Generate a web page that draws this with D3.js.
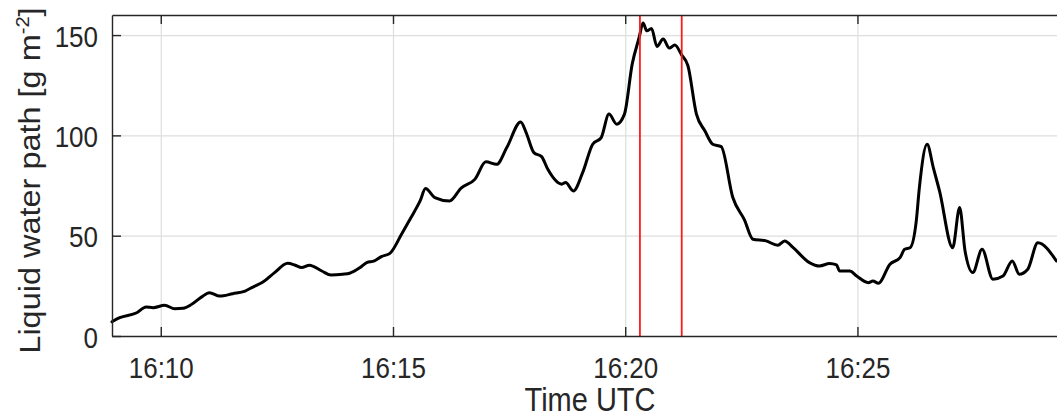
<!DOCTYPE html>
<html>
<head>
<meta charset="utf-8">
<script src="https://cdn.jsdelivr.net/npm/d3@7"></script>
<style>
  html, body { margin: 0; padding: 0; background: #fff; }
  svg { display: block; }
  text { font-family: "Liberation Sans", Arial, Helvetica, sans-serif; fill: #262626; }
</style>
</head>
<body>
<svg id="chart" width="1057" height="420"></svg>
<script>
// Liquid water path time series (UTC)
const times = [
  "16:08:57","16:09:07","16:09:29","16:09:41","16:09:50","16:10:05","16:10:18","16:10:29",
  "16:10:40","16:10:53","16:11:03","16:11:16","16:11:33","16:11:49","16:11:59","16:12:12",
  "16:12:27","16:12:44","16:12:53","16:13:02","16:13:12","16:13:28","16:13:40","16:13:55",
  "16:14:04","16:14:17","16:14:26","16:14:36","16:14:45","16:14:56","16:15:11","16:15:22",
  "16:15:35","16:15:42","16:15:54","16:16:13","16:16:28","16:16:46","16:17:00","16:17:14",
  "16:17:27","16:17:45","16:17:52","16:18:02","16:18:12","16:18:20","16:18:38","16:18:43",
  "16:18:53","16:19:05","16:19:18","16:19:29","16:19:39","16:19:49","16:19:59","16:20:09",
  "16:20:18","16:20:23","16:20:28","16:20:34","16:20:41","16:20:49","16:20:57","16:21:04",
  "16:21:13","16:21:21","16:21:32","16:21:43","16:21:53","16:22:04","16:22:19","16:22:34",
  "16:22:45","16:23:02","16:23:17","16:23:26","16:23:37","16:23:58","16:24:11","16:24:24",
  "16:24:33","16:24:37","16:24:50","16:24:59","16:25:14","16:25:20","16:25:27","16:25:42",
  "16:25:55","16:26:01","16:26:08","16:26:16","16:26:20","16:26:30","16:26:38","16:26:46",
  "16:27:03","16:27:12","16:27:19","16:27:29","16:27:41","16:27:55","16:28:08","16:28:20",
  "16:28:29","16:28:40","16:28:53","16:29:17"
];
const lwp = [
  7.1, 9.1, 11.6, 14.5, 14.1, 15.3, 13.6, 13.8,
  15.8, 19.5, 21.6, 19.9, 21.1, 22.4, 24.4, 26.9,
  31.6, 36.2, 35.4, 34.1, 35.3, 32.4, 30.4, 30.8,
  31.3, 34.0, 36.6, 37.4, 39.6, 41.2, 50.7, 58.2,
  67.3, 73.5, 69.0, 67.3, 73.7, 78.2, 86.8, 85.6,
  93.9, 106.7, 101.4, 91.4, 89.4, 83.1, 75.7, 76.5,
  72.3, 81.4, 95.6, 98.9, 110.6, 105.6, 110.6, 135.5,
  148.8, 156.0, 152.1, 153.3, 144.3, 148.0, 143.5, 145.0,
  140.0, 134.7, 110.6, 102.2, 95.6, 94.4, 69.0, 57.9,
  48.2, 47.4, 45.2, 47.4, 44.0, 36.6, 34.9, 36.1,
  35.4, 32.4, 32.4, 29.9, 26.6, 27.4, 26.3, 35.8,
  39.1, 43.2, 44.0, 57.4, 74.0, 95.6, 83.9, 72.3,
  44.0, 64.0, 42.4, 31.6, 43.2, 28.3, 29.9, 37.4,
  30.8, 33.3, 46.5, 37.4
];
// Time window marks
const markers = ["16:20:19", "16:21:13"];
// Axis ranges and ticks
const timeRange = ["16:08:57", "16:29:32"];
const xTicks = ["16:10", "16:15", "16:20", "16:25"];
const yRange = [0, 160];
const yTicks = [0, 50, 100, 150];

const parseT = d3.timeParse("%H:%M:%S");
const parseHM = d3.timeParse("%H:%M");

const svg = d3.select("#chart");
const m = { left: 112, top: 15, right: 1068, bottom: 336 };

const x = d3.scaleTime()
  .domain(timeRange.map(parseT))
  .range([m.left, m.right]);
const y = d3.scaleLinear()
  .domain(yRange)
  .range([m.bottom, m.top]);

const plotH = m.bottom - m.top;
const plotW = m.right - m.left;

// text is drawn slightly taller than wide
const stretch = 1.12;

// grid
const grid = svg.append("g");
grid.append("g")
  .attr("transform", `translate(0,${m.bottom})`)
  .call(d3.axisBottom(x).tickValues(xTicks.map(parseHM)).tickSize(-plotH).tickFormat(""))
  .call(g => g.select(".domain").remove())
  .call(g => g.selectAll("line").attr("stroke", "#dedede").attr("stroke-width", 1.2));
grid.append("g")
  .attr("transform", `translate(${m.left},0)`)
  .call(d3.axisLeft(y).tickValues(yTicks).tickSize(-plotW).tickFormat(""))
  .call(g => g.select(".domain").remove())
  .call(g => g.selectAll("line").attr("stroke", "#dedede").attr("stroke-width", 1.2));

// data line
const line = d3.line()
  .x((d, i) => x(parseT(times[i])))
  .y(d => y(d))
  .curve(d3.curveMonotoneX);

svg.append("path")
  .datum(lwp)
  .attr("d", line)
  .attr("fill", "none")
  .attr("stroke", "#000")
  .attr("stroke-width", 3)
  .attr("stroke-linejoin", "round")
  .attr("stroke-linecap", "round");

// time window markers
svg.append("g")
  .selectAll("line")
  .data(markers)
  .join("line")
  .attr("x1", d => x(parseT(d)))
  .attr("x2", d => x(parseT(d)))
  .attr("y1", m.top)
  .attr("y2", m.bottom)
  .attr("stroke", "#ff1a1a")
  .attr("stroke-width", 1.8);

// axes with inward ticks
const tickFont = 26;
const xAxis = svg.append("g")
  .attr("transform", `translate(0,${m.bottom})`)
  .call(d3.axisBottom(x).tickValues(xTicks.map(parseHM))
    .tickFormat(d3.timeFormat("%H:%M")).tickSize(-9).tickSizeOuter(0));
const xTop = svg.append("g")
  .attr("transform", `translate(0,${m.top})`)
  .call(d3.axisTop(x).tickValues(xTicks.map(parseHM))
    .tickFormat("").tickSize(-9).tickSizeOuter(0));
const yAxis = svg.append("g")
  .attr("transform", `translate(${m.left},0)`)
  .call(d3.axisLeft(y).tickValues(yTicks)
    .tickSize(-9).tickSizeOuter(0));

[xAxis, xTop, yAxis].forEach(g => {
  g.select(".domain").attr("stroke", "#262626").attr("stroke-width", 1.4);
  g.selectAll(".tick line").attr("stroke", "#262626").attr("stroke-width", 1.4);
  g.selectAll(".tick text")
    .style("font-family", '"Liberation Sans", Arial, sans-serif')
    .attr("fill", "#262626")
    .attr("font-size", tickFont);
});

// place tick labels by their baselines
xAxis.selectAll(".tick text")
  .attr("y", 0).attr("dy", 0)
  .attr("transform", `translate(0,42) scale(1,${stretch})`);
yAxis.selectAll(".tick text")
  .attr("x", 0).attr("dy", 0)
  .attr("transform", `translate(-14,11) scale(1,${stretch})`);

// axis titles
svg.append("text")
  .attr("transform", `translate(${(m.left + m.right) / 2},411) scale(1,${stretch})`)
  .attr("text-anchor", "middle")
  .attr("font-size", 29)
  .text("Time UTC");

const yl = svg.append("text")
  .attr("transform", `translate(40,${(m.top + m.bottom) / 2 + 5}) rotate(-90) scale(${stretch},1)`)
  .attr("text-anchor", "middle")
  .attr("font-size", 29);
yl.append("tspan").text("Liquid water path [g m");
yl.append("tspan").attr("dy", -11).attr("font-size", 18).text("-2");
yl.append("tspan").attr("dy", 11).text("]");
</script>
</body>
</html>
